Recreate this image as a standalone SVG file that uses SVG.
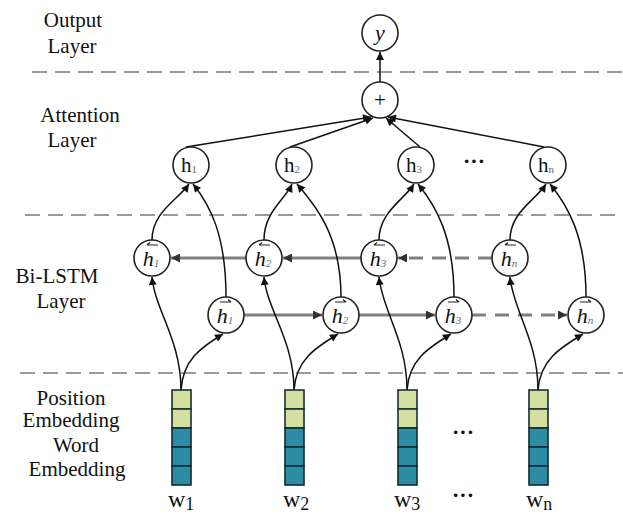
<svg xmlns="http://www.w3.org/2000/svg" width="623" height="516" viewBox="0 0 623 516">
<defs>
<marker id="ah" viewBox="0 0 10 10" refX="10" refY="5" markerWidth="9" markerHeight="8" markerUnits="userSpaceOnUse" orient="auto">
<path d="M0,0 L10,5 L0,10 Z" fill="#111"/>
</marker>
<marker id="ahg" viewBox="0 0 10 10" refX="10" refY="5" markerWidth="10" markerHeight="9" markerUnits="userSpaceOnUse" orient="auto">
<path d="M0,0 L10,5 L0,10 Z" fill="#333"/>
</marker>
</defs>
<style>
text{font-family:'Liberation Serif','DejaVu Serif',serif}
.lbl{font-size:21px;fill:#111;text-anchor:middle}
.node{fill:#fff;stroke:#222;stroke-width:1.6}
.nt{font-size:21px;fill:#111;text-anchor:middle}
.sub{font-size:11px;fill:#5a7080}
.it{font-style:italic;font-size:22px;fill:#111;text-anchor:middle}
.sep{stroke:#9a9a9a;stroke-width:2;stroke-dasharray:15 8;fill:none}
.conn{stroke:#111;stroke-width:1.5;fill:none;marker-end:url(#ah)}
.rec{stroke:#808080;stroke-width:3;fill:none;marker-end:url(#ahg)}
.recd{stroke:#808080;stroke-width:3;fill:none;stroke-dasharray:14 9;marker-end:url(#ahg)}
.ov{stroke:#222;stroke-width:1.2;fill:none}
.pe{fill:#d4e0a2;stroke:#1c2e2e;stroke-width:1.6}
.we{fill:#2b8ca4;stroke:#112a34;stroke-width:1.6}
.dots{font-size:22px;font-weight:bold;fill:#111;text-anchor:middle}
.w{font-size:24px;fill:#111}
</style>
<rect width="623" height="516" fill="#fff"/>

<g id="layer-labels">
<text class="lbl" x="73" y="27">Output</text>
<text class="lbl" x="72" y="53">Layer</text>
<text class="lbl" x="80" y="122">Attention</text>
<text class="lbl" x="72" y="147">Layer</text>
<text class="lbl" x="57" y="283">Bi-LSTM</text>
<text class="lbl" x="61" y="308">Layer</text>
<text class="lbl" x="71" y="405">Position</text>
<text class="lbl" x="71" y="427">Embedding</text>
<text class="lbl" x="76" y="452">Word</text>
<text class="lbl" x="77" y="476">Embedding</text>
</g>

<g id="separators">
<line class="sep" x1="32" y1="72" x2="623" y2="72"/>
<line class="sep" x1="25" y1="215" x2="623" y2="215"/>
<line class="sep" x1="20" y1="373" x2="623" y2="373"/>
</g>

<g id="connectors">
<line class="conn" x1="380" y1="82" x2="380" y2="52"/>
<line class="conn" x1="186" y1="147" x2="371" y2="117"/>
<line class="conn" x1="290" y1="147" x2="373" y2="118"/>
<line class="conn" x1="420" y1="147" x2="386" y2="118"/>
<line class="conn" x1="544" y1="147" x2="388" y2="117"/>
<line class="rec" x1="246" y1="258" x2="171" y2="258"/>
<line class="rec" x1="361" y1="258" x2="283" y2="258"/>
<line class="recd" x1="492" y1="258" x2="398" y2="258"/>
<line class="rec" x1="244" y1="315" x2="322" y2="315"/>
<line class="rec" x1="359" y1="315" x2="435" y2="315"/>
<line class="recd" x1="472" y1="315" x2="567" y2="315"/>
<path class="conn" d="M181,390 C181,340 155,310 152,277"/>
<path class="conn" d="M181,390 C183,360 200,348 223,334"/>
<path class="conn" d="M152,240 C152,212 178,200 189,184"/>
<path class="conn" d="M226,297 C226,235 210,205 193,184"/>
<path class="conn" d="M294,390 C294,340 267,310 264,277"/>
<path class="conn" d="M294,390 C296,360 315,348 338,334"/>
<path class="conn" d="M264,240 C264,212 285,200 292,184"/>
<path class="conn" d="M341,297 C341,235 315,205 297,184"/>
<path class="conn" d="M407,390 C407,340 382,310 379,277"/>
<path class="conn" d="M407,390 C409,360 428,348 451,334"/>
<path class="conn" d="M379,240 C379,212 404,200 414,184"/>
<path class="conn" d="M454,297 C454,235 435,205 418,184"/>
<path class="conn" d="M538,390 C538,340 513,310 510,277"/>
<path class="conn" d="M538,390 C540,360 560,348 583,334"/>
<path class="conn" d="M510,240 C510,212 536,200 546,184"/>
<path class="conn" d="M586,297 C586,235 567,205 550,184"/>
</g>

<g id="node-y">
<circle class="node" cx="380" cy="33" r="18"/>
<text class="it" x="380" y="40">y</text>
</g>
<g id="node-plus">
<circle class="node" cx="380" cy="100" r="18"/>
<text class="nt" x="380" y="107">+</text>
</g>

<g id="node-h1"><circle class="node" cx="191" cy="165" r="18"/><text class="nt" x="189" y="172">h<tspan class="sub" dy="1">1</tspan></text></g>
<g id="node-h2"><circle class="node" cx="294" cy="165" r="18"/><text class="nt" x="292" y="172">h<tspan class="sub" dy="1">2</tspan></text></g>
<g id="node-h3"><circle class="node" cx="416" cy="165" r="18"/><text class="nt" x="414" y="172">h<tspan class="sub" dy="1">3</tspan></text></g>
<g id="node-hn"><circle class="node" cx="548" cy="165" r="18"/><text class="nt" x="546" y="172">h<tspan class="sub" dy="1">n</tspan></text></g>
<text class="dots" x="474" y="168">···</text>

<g id="node-hb1"><circle class="node" cx="152" cy="258" r="18"/><text class="it" x="151" y="266">h<tspan class="sub" dy="1">1</tspan></text><path class="ov" d="M147,245 L158,245 M147,245 L150,242.5"/></g>
<g id="node-hb2"><circle class="node" cx="264" cy="258" r="18"/><text class="it" x="263" y="266">h<tspan class="sub" dy="1">2</tspan></text><path class="ov" d="M259,245 L270,245 M259,245 L262,242.5"/></g>
<g id="node-hb3"><circle class="node" cx="379" cy="258" r="18"/><text class="it" x="378" y="266">h<tspan class="sub" dy="1">3</tspan></text><path class="ov" d="M374,245 L385,245 M374,245 L377,242.5"/></g>
<g id="node-hbn"><circle class="node" cx="510" cy="258" r="18"/><text class="it" x="509" y="266">h<tspan class="sub" dy="1">n</tspan></text><path class="ov" d="M505,245 L516,245 M505,245 L508,242.5"/></g>

<g id="node-hf1"><circle class="node" cx="226" cy="315" r="18"/><text class="it" x="225" y="323">h<tspan class="sub" dy="1">1</tspan></text><path class="ov" d="M220,302 L231,302 M231,302 L228,299.5"/></g>
<g id="node-hf2"><circle class="node" cx="341" cy="315" r="18"/><text class="it" x="340" y="323">h<tspan class="sub" dy="1">2</tspan></text><path class="ov" d="M335,302 L346,302 M346,302 L343,299.5"/></g>
<g id="node-hf3"><circle class="node" cx="454" cy="315" r="18"/><text class="it" x="453" y="323">h<tspan class="sub" dy="1">3</tspan></text><path class="ov" d="M448,302 L459,302 M459,302 L456,299.5"/></g>
<g id="node-hfn"><circle class="node" cx="586" cy="315" r="18"/><text class="it" x="585" y="323">h<tspan class="sub" dy="1">n</tspan></text><path class="ov" d="M580,302 L591,302 M591,302 L588,299.5"/></g>

<g id="emb-1">
<rect class="pe" x="172" y="390" width="19" height="19"/><rect class="pe" x="172" y="409" width="19" height="19"/>
<rect class="we" x="172" y="428" width="19" height="19"/><rect class="we" x="172" y="447" width="19" height="19"/><rect class="we" x="172" y="466" width="19" height="19"/>
<text class="w" x="168" y="507">w<tspan font-size="18" dy="3">1</tspan></text>
</g>
<g id="emb-2">
<rect class="pe" x="285" y="390" width="19" height="19"/><rect class="pe" x="285" y="409" width="19" height="19"/>
<rect class="we" x="285" y="428" width="19" height="19"/><rect class="we" x="285" y="447" width="19" height="19"/><rect class="we" x="285" y="466" width="19" height="19"/>
<text class="w" x="283" y="507">w<tspan font-size="18" dy="3">2</tspan></text>
</g>
<g id="emb-3">
<rect class="pe" x="398" y="390" width="19" height="19"/><rect class="pe" x="398" y="409" width="19" height="19"/>
<rect class="we" x="398" y="428" width="19" height="19"/><rect class="we" x="398" y="447" width="19" height="19"/><rect class="we" x="398" y="466" width="19" height="19"/>
<text class="w" x="394" y="507">w<tspan font-size="18" dy="3">3</tspan></text>
</g>
<g id="emb-n">
<rect class="pe" x="529" y="390" width="19" height="19"/><rect class="pe" x="529" y="409" width="19" height="19"/>
<rect class="we" x="529" y="428" width="19" height="19"/><rect class="we" x="529" y="447" width="19" height="19"/><rect class="we" x="529" y="466" width="19" height="19"/>
<text class="w" x="526" y="507">w<tspan font-size="18" dy="3">n</tspan></text>
</g>
<text class="dots" x="463" y="439">···</text>
<text class="dots" x="463" y="502">···</text>
</svg>
